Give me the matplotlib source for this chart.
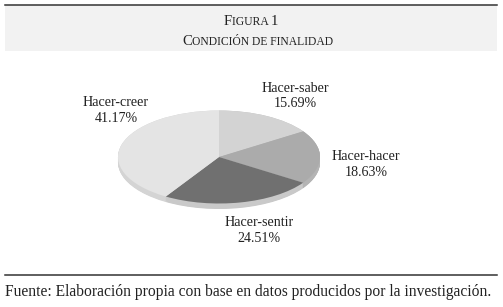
import matplotlib
matplotlib.use("Agg")
import matplotlib.pyplot as plt
import numpy as np
from matplotlib.patches import Rectangle
from matplotlib.lines import Line2D

# --- data ---
labels = ["Hacer-saber", "Hacer-hacer", "Hacer-sentir", "Hacer-creer"]
shares = [15.69, 18.63, 24.51, 41.17]
top_colors = ["#d3d3d3", "#ababab", "#707070", "#e4e4e4"]
rim_colors = ["#c4c4c4", "#b4b4b4", "#c9c9c9", "#d4d4d4"]
title_line1 = "Figura 1"
title_line2 = "Condición de finalidad"
source = "Fuente: Elaboración propia con base en datos producidos por la investigación."

W, H = 503, 307
plt.rcParams['font.family'] = ['Liberation Serif', 'DejaVu Serif']


def px(x, y):
    # image pixel (from top-left) -> figure fraction
    return x / W, 1 - y / H


fig = plt.figure(figsize=(W / 100, H / 100), dpi=100)
fig.patch.set_facecolor("white")

# header band + rules
fig.patches.append(Rectangle(px(5, 51), 492 / W, 46 / H, transform=fig.transFigure,
                             facecolor="#f2f2f2", edgecolor="none"))
for yy in (5, 275):
    fig.add_artist(Line2D([5 / W, 497 / W], [1 - yy / H] * 2, transform=fig.transFigure,
                          color="#333333", lw=1.1))

renderer = fig.canvas.get_renderer()


def small_caps(text, xc, y, big=10.6, small=8.4):
    # fake small caps: original capitals big, lowercase letters drawn as small capitals
    runs = []
    for ch in text:
        is_big = not ch.islower()
        if ch == " ":
            is_big = runs[-1][1] if runs else True
        if runs and runs[-1][1] == is_big:
            runs[-1][0] += ch
        else:
            runs.append([ch, is_big])
    arts = []
    for s, is_big in runs:
        t = fig.text(0, 0, s.upper(), fontsize=big if is_big else small, va="baseline",
                     ha="left", color="#222222")
        arts.append(t)
    # extents already include trailing spaces
    widths = [t.get_window_extent(renderer).width for t in arts]
    x = xc - sum(widths) / 2
    fx, fy = px(0, y)
    for t, w in zip(arts, widths):
        t.set_position((x / W, fy))
        x += w


small_caps(title_line1, 251, 24.7)
small_caps(title_line2, 258, 45.3)

# pie: ellipse centre (219,157), semi-axes 101 x 46.5 px, depth ~5 px
cx, cy, a, b = 219, 157, 101, 46.5
xl, yl = (-1.2, 1.2), (-1.3, 1.2)
left = (cx + xl[0] * a) / W
bottom = (H - cy + yl[0] * b) / H
ax = fig.add_axes([left, bottom, (xl[1] - xl[0]) * a / W, (yl[1] - yl[0]) * b / H])

depth = 5.5 / b
for k in np.linspace(depth, 0, 12):
    ax.pie(shares, colors=rim_colors, startangle=90, counterclock=False,
           center=(0, -k), wedgeprops=dict(linewidth=0))
ax.pie(shares, colors=top_colors, startangle=90, counterclock=False,
       wedgeprops=dict(linewidth=0))
ax.set_aspect("auto")
ax.set_xlim(*xl)
ax.set_ylim(*yl)
ax.axis("off")

# labels: (centre x, baseline of name, baseline of value)
label_pos = [(295, 91.5, 107.5), (366, 160, 176), (259, 226.5, 242.5), (116, 106, 122)]
for name, val, (lx, y1, y2) in zip(labels, shares, label_pos):
    for txt, yy in ((name, y1), (f"{val:.2f}%", y2)):
        fx, fy = px(lx, yy)
        fig.text(fx, fy, txt, ha="center", va="baseline", fontsize=10.1, color="#222222")

fx, fy = px(5, 296)
fig.text(fx, fy, source, ha="left", va="baseline", fontsize=11.2, color="#222222")

fig.savefig("out.png", dpi=100)
